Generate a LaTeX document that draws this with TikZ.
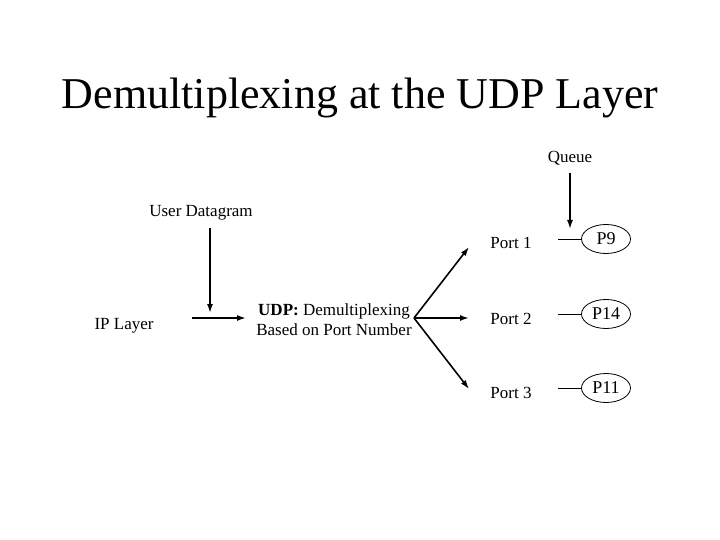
\documentclass[tikz,border=0pt]{standalone}
\usepackage{fontspec}
\setmainfont{Liberation Serif}
\usetikzlibrary{shapes.geometric,arrows.meta}
\begin{document}
\begin{tikzpicture}[x=1pt,y=-1pt,
  lbl/.style={font=\fontsize{17}{20}\selectfont, inner sep=0pt},
  proc/.style={draw, ellipse, minimum width=49pt, minimum height=29pt, inner sep=0pt, line width=0.8pt, font=\fontsize{18}{20}\selectfont},
  arr/.style={line width=1.6pt, -{Latex[length=9pt,width=6pt]}},
  stub/.style={line width=0.8pt}]
\useasboundingbox (0,0) rectangle (720,540);
\node[anchor=base, inner sep=0pt, font=\fontsize{44}{50}\selectfont] (title) at (360,109) {Demultiplexing at the UDP Layer};

\node[lbl] (queue) at (570,158) {Queue};
\coordinate (qend) at (570,229);
\draw[arr] (570,173) coordinate (qstart) -- (qend);

\node[lbl] (user) at (201,213) {User Datagram};
\coordinate (uend) at (210,313);
\draw[arr] (210,228) coordinate (ustart) -- (uend);

\node[lbl] (ip) at (124,326) {IP Layer};
\coordinate (ipa) at (192,318);
\coordinate (ipb) at (246,318);
\draw[arr] (ipa) -- (ipb);

\node[lbl, align=center] (udp) at (334,320) {\textbf{UDP:} Demultiplexing\\Based on Port Number};

\coordinate (fork) at (414,318);
\coordinate (f1) at (469,247);
\coordinate (f2) at (469,318);
\coordinate (f3) at (469,389);
\draw[arr] (fork) -- (f1);
\draw[arr] (fork) -- (f2);
\draw[arr] (fork) -- (f3);

\node[lbl] (port1) at (511,243) {Port 1};
\node[lbl] (port2) at (511,319) {Port 2};
\node[lbl] (port3) at (511,393) {Port 3};

\node[proc] (p9) at (606,239) {P9};
\node[proc] (p14) at (606,314) {P14};
\node[proc] (p11) at (606,388) {P11};

\coordinate (s1) at (558,239);
\coordinate (s2) at (558,314);
\coordinate (s3) at (558,388);
\draw[stub] (s1) -- (p9.west);
\draw[stub] (s2) -- (p14.west);
\draw[stub] (s3) -- (p11.west);
\end{tikzpicture}
\end{document}
